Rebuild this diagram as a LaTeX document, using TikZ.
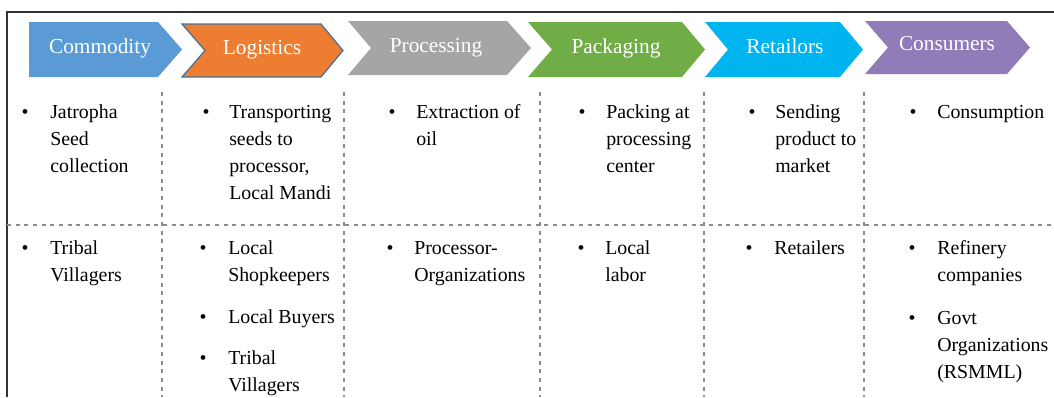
\documentclass[tikz,border=0pt]{standalone}
\usepackage{fontspec}
\setmainfont{Liberation Serif}
\definecolor{cblue}{HTML}{5B9BD5}
\definecolor{corange}{HTML}{ED7D31}
\definecolor{cedge}{HTML}{41719C}
\definecolor{cgrey}{HTML}{A5A5A5}
\definecolor{cgreen}{HTML}{70AD47}
\definecolor{ccyan}{HTML}{00B5EF}
\definecolor{cpurple}{HTML}{8F7CB9}
\definecolor{dashgrey}{HTML}{8C8C8C}
\definecolor{framegrey}{HTML}{333333}
\begin{document}
\begin{tikzpicture}[x=0.75pt,y=-0.75pt,
  head/.style={text=white,font=\fontsize{16}{18}\selectfont,anchor=base,inner sep=0},
  itm/.style={font=\fontsize{14.9}{20.4}\selectfont,anchor=north west,inner sep=0,align=left},
  bul/.style={font=\fontsize{14.9}{20.4}\selectfont,anchor=north,inner sep=0},
  sepline/.style={draw=dashgrey,line width=0.8pt,dash pattern=on 3pt off 3.5pt},
  frameline/.style={draw=framegrey,line width=1.1pt}]
\useasboundingbox (0,0) rectangle (1054,397);
% frame
\coordinate (fbl) at (7,397);
\coordinate (ftl) at (7,12);
\coordinate (ftr) at (1054,12);
\draw[frameline] (fbl) -- (ftl) -- (ftr);
% chevrons
\fill[cblue] (29,22) -- (158,22) -- (182,49.5) -- (158,77) -- (29,77) -- cycle;
\filldraw[fill=corange,draw=cedge,line width=0.9pt] (182,24) -- (321,24) -- (343,50.5) -- (321,77) -- (182,77) -- (205,50.5) -- cycle;
\fill[cgrey] (348,21) -- (507,21) -- (531,48) -- (507,75) -- (348,75) -- (371,48) -- cycle;
\fill[cgreen] (528,22) -- (682,22) -- (705,49.5) -- (682,77) -- (528,77) -- (552,49.5) -- cycle;
\fill[ccyan] (705,22) -- (840,22) -- (863,49.5) -- (840,77) -- (705,77) -- (728,49.5) -- cycle;
\fill[cpurple] (865,21) -- (1007,21) -- (1030,47.5) -- (1007,74) -- (865,74) -- (888,47.5) -- cycle;
\node[head] (h1) at (100,53) {Commodity};
\node[head] (h2) at (262,54) {Logistics};
\node[head] (h3) at (436,52) {Processing};
\node[head] (h4) at (616,53) {Packaging};
\node[head] (h5) at (785,53) {Retailors};
\node[head] (h6) at (947,50) {Consumers};
% separators
\coordinate (hl) at (7,225);
\coordinate (hr) at (1054,225);
\draw[sepline] (hl) -- (hr);
\foreach \x/\n in {162/a,344/b,540/c,704/d,864/e}{
  \coordinate (v\n t) at (\x,92);
  \coordinate (v\n b) at (\x,397);
  \draw[sepline] (v\n t) -- (v\n b);
}
% row 1
\node[bul] (b11) at (25,99) {\strut\textbullet};
\node[itm] (t11) at (50,99) {\strut Jatropha\\Seed\\collection};
\node[bul] (b12) at (206,99) {\strut\textbullet};
\node[itm] (t12) at (229,99) {\strut Transporting\\seeds to\\processor,\\Local Mandi};
\node[bul] (b13) at (392,99) {\strut\textbullet};
\node[itm] (t13) at (416,99) {\strut Extraction of\\oil};
\node[bul] (b14) at (582,99) {\strut\textbullet};
\node[itm] (t14) at (606,99) {\strut Packing at\\processing\\center};
\node[bul] (b15) at (752,99) {\strut\textbullet};
\node[itm] (t15) at (775,99) {\strut Sending\\product to\\market};
\node[bul] (b16) at (913,99) {\strut\textbullet};
\node[itm] (t16) at (937,99) {\strut Consumption};
% row 2
\node[bul] (b21) at (25,235) {\strut\textbullet};
\node[itm] (t21) at (50,235) {\strut Tribal\\Villagers};
\node[bul] (b22a) at (203,235) {\strut\textbullet};
\node[itm] (t22a) at (228,235) {\strut Local\\Shopkeepers};
\node[bul] (b22b) at (203,304) {\strut\textbullet};
\node[itm] (t22b) at (228,304) {\strut Local Buyers};
\node[bul] (b22c) at (203,345) {\strut\textbullet};
\node[itm] (t22c) at (228,345) {\strut Tribal\\Villagers};
\node[bul] (b23) at (390,235) {\strut\textbullet};
\node[itm] (t23) at (414,235) {\strut Processor-\\Organizations};
\node[bul] (b24) at (581,235) {\strut\textbullet};
\node[itm] (t24) at (605,235) {\strut Local\\labor};
\node[bul] (b25) at (749,235) {\strut\textbullet};
\node[itm] (t25) at (774,235) {\strut Retailers};
\node[bul] (b26a) at (912,235) {\strut\textbullet};
\node[itm] (t26a) at (937,235) {\strut Refinery\\companies};
\node[bul] (b26b) at (912,305) {\strut\textbullet};
\node[itm] (t26b) at (937,305) {\strut Govt\\Organizations\\(RSMML)};
\end{tikzpicture}
\end{document}
